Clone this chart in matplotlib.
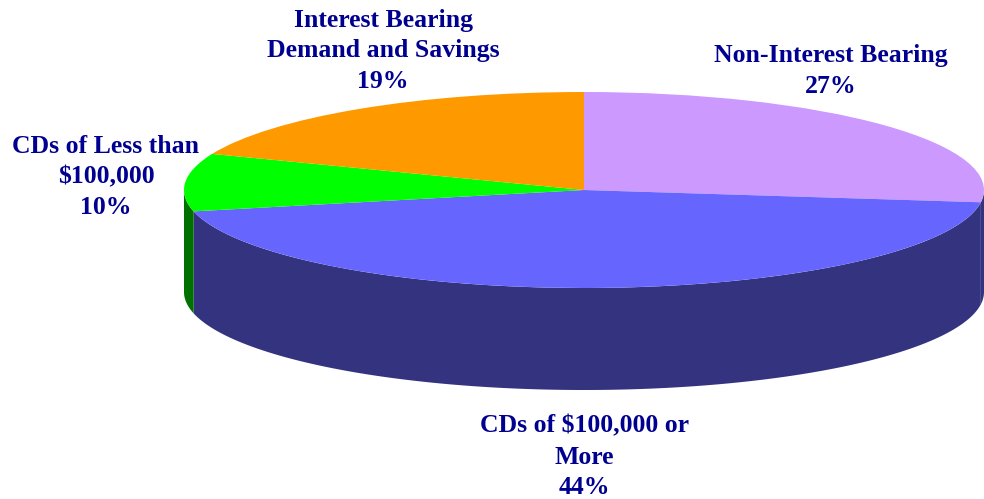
import numpy as np
import matplotlib
matplotlib.use("Agg")
import matplotlib.pyplot as plt

labels = ["Non-Interest Bearing\n27%", "CDs of $100,000 or\nMore\n44%",
          "CDs of Less than\n$100,000\n10%", "Interest Bearing\nDemand and Savings\n19%"]
shares = [27, 44.5, 9.5, 19]
top_colors = ["#CC99FF", "#6666FF", "#00FF00", "#FF9900"]
side_colors = ["#333380", "#333380", "#007000", "#805000"]
label_px = [(831, 71), (584, 457), (106, 177), (383, 51)]

W, H = 984, 499
CX, CY, RX, RY, DEPTH = 584, 190, 400, 98, 102

fig = plt.figure(figsize=(W / 100, H / 100), dpi=100, facecolor="white")
ax = fig.add_axes([0, 0, 1, 1])
wedges, _ = ax.pie(shares, colors=top_colors, startangle=90, counterclock=False,
                   wedgeprops={"linewidth": 0})
for w in wedges:
    w.set_zorder(3)
ax.set_aspect("auto")
ax.set_xlim(-CX / RX, (W - CX) / RX)
ax.set_ylim(-(H - CY) / RY, CY / RY)
ax.axis("off")

# extruded side of the pie, visible only along the lower half of the rim
edges = 90 - 3.6 * np.concatenate([[0], np.cumsum(shares)])
d = DEPTH / RY
for i, color in enumerate(side_colors):
    hi, lo = edges[i], edges[i + 1]
    a0, a1 = min(hi, 0), max(lo, -180)
    if a0 > a1:
        t = np.radians(np.linspace(a0, a1, 200))
        x, y = np.cos(t), np.sin(t)
        ax.fill(np.r_[x, x[::-1]], np.r_[y, y[::-1] - d], color=color, lw=0, zorder=2)

for text, (px, py) in zip(labels, label_px):
    ax.text((px - CX) / RX, (CY - py) / RY, text, ha="center", va="center",
            color="#000090", fontsize=18.5, fontweight="bold",
            family="Liberation Serif", linespacing=1.43)

fig.savefig("out.png", dpi=100, facecolor="white")
